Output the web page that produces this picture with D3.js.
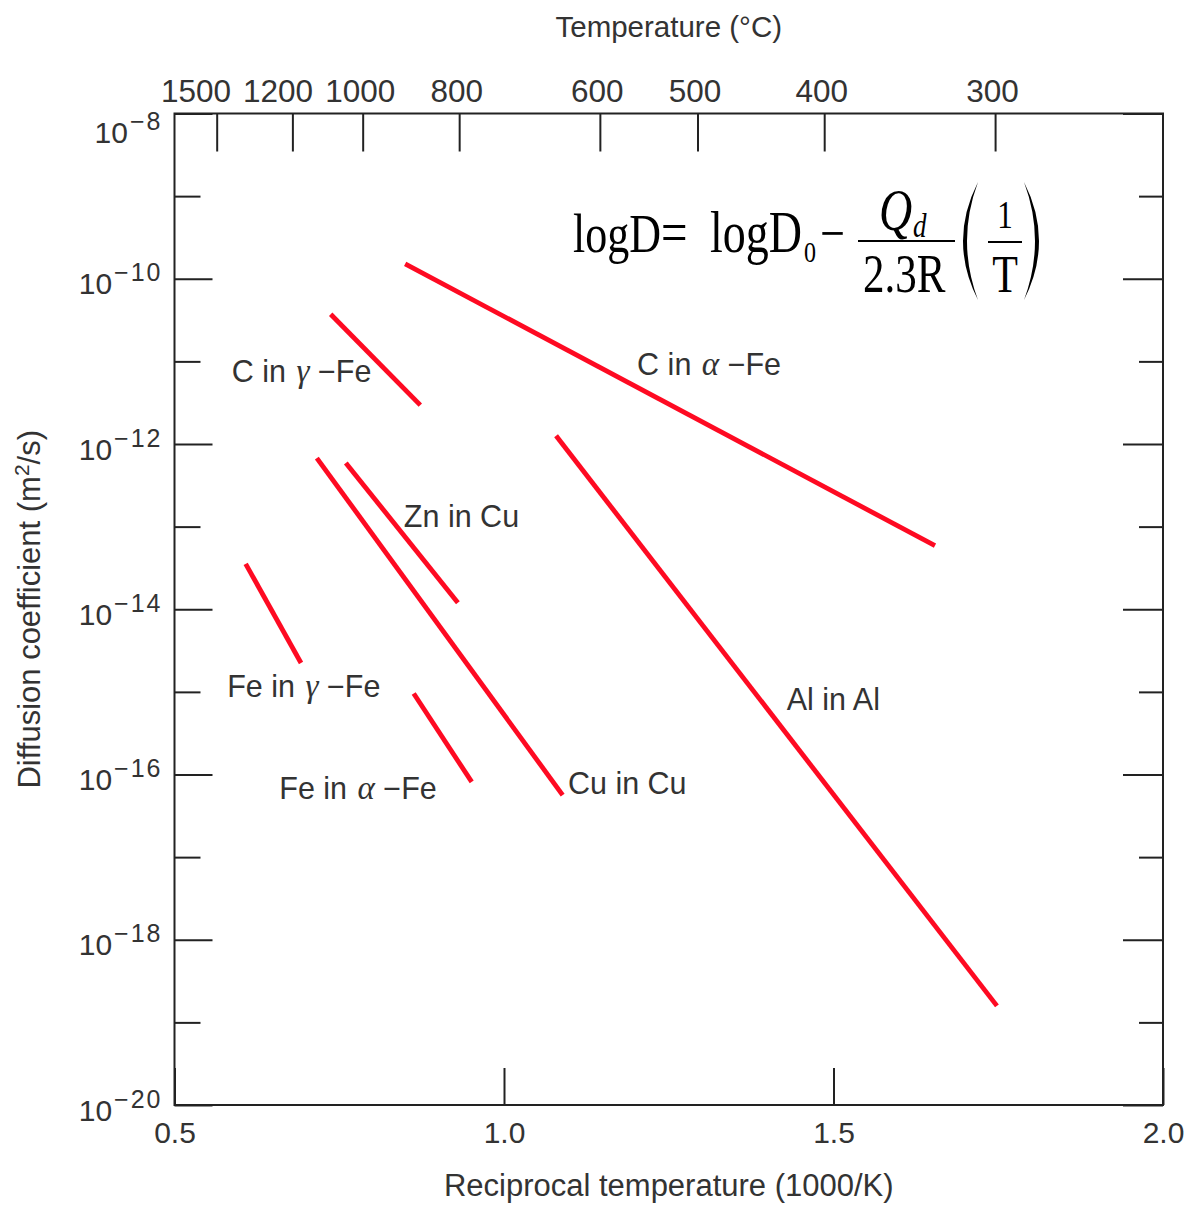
<!DOCTYPE html>
<html>
<head>
<meta charset="utf-8">
<script src="https://cdn.jsdelivr.net/npm/d3@7/dist/d3.min.js"></script>
<style>
body { margin: 0; background: #fff; }
svg text { font-family: "Liberation Sans", Arial, sans-serif; fill: #333; }
.axis line { stroke: #222; stroke-width: 2; }
.axis path { display: none; }
</style>
</head>
<body>
<svg id="chart"></svg>
<script>
// series: endpoints in reciprocal temperature (1000/K) and log10 D (m2/s)
var seriesNames = ["C in α −Fe", "C in γ −Fe", "Zn in Cu", "Cu in Cu", "Fe in γ −Fe", "Fe in α −Fe", "Al in Al"];
var recipT = [[0.850, 1.654], [0.737, 0.873], [0.760, 0.930], [0.716, 1.089], [0.608, 0.692], [0.863, 0.951], [1.079, 1.748]];
var logD   = [[-9.82, -13.23], [-10.43, -11.53], [-12.23, -13.92], [-12.17, -16.25], [-13.45, -14.65], [-15.02, -16.09], [-11.90, -18.80]];

// where each series name sits (data units, text start / baseline)
var labelRecipT = [1.202, 0.587, 0.848, 1.097, 0.580, 0.659, 1.429];
var labelLogD   = [-11.17, -11.25, -13.00, -16.24, -15.06, -16.30, -15.22];

var tempC = [1500, 1200, 1000, 800, 600, 500, 400, 300];
var xTicks = [0.5, 1.0, 1.5, 2.0];
var majorDecades = [-8, -10, -12, -14, -16, -18, -20];
var minorDecades = [-9, -11, -13, -15, -17, -19];

var W = 1191, H = 1207;
var svg = d3.select("#chart").attr("width", W).attr("height", H);

var x = d3.scaleLinear().domain([0.5, 2.0]).range([174.5, 1163]);
var y = d3.scaleLog().domain([1e-20, 1e-8]).range([1105, 113.5]);
var plotL = x.range()[0], plotR = x.range()[1], plotT = y.range()[1], plotB = y.range()[0];

function pow10(e) { return Math.pow(10, e); }

// left axis, inward ticks
var gl = svg.append("g").attr("class", "axis").attr("transform", "translate(" + plotL + ",0)");
gl.call(d3.axisLeft(y).tickValues(majorDecades.map(pow10)).tickSizeInner(-38).tickSizeOuter(0).tickPadding(12));
gl.selectAll(".tick text")
    .attr("font-size", 30)
    .attr("dy", function(d) { return d === 1e-8 ? "0.98em" : "0.5em"; })
    .each(function(d) {
        var t = d3.select(this).text(null);
        t.append("tspan").text("10");
        t.append("tspan").attr("dy", -13).attr("dx", 2).attr("font-size", 25).attr("letter-spacing", 2)
            .text("\u2212" + Math.round(-Math.log10(d)));
    });
gl.append("g").call(d3.axisLeft(y).tickValues(minorDecades.map(pow10)).tickSizeInner(-26).tickSizeOuter(0).tickFormat(""));

// right axis, inward ticks
var gr = svg.append("g").attr("class", "axis").attr("transform", "translate(" + plotR + ",0)");
gr.call(d3.axisRight(y).tickValues(majorDecades.map(pow10)).tickSizeInner(-40).tickSizeOuter(0).tickFormat(""));
gr.append("g").call(d3.axisRight(y).tickValues(minorDecades.map(pow10)).tickSizeInner(-24).tickSizeOuter(0).tickFormat(""));

// bottom axis
var gb = svg.append("g").attr("class", "axis").attr("transform", "translate(0," + plotB + ")");
gb.call(d3.axisBottom(x).tickValues(xTicks).tickSizeInner(-37).tickSizeOuter(0).tickPadding(17).tickFormat(d3.format(".1f")));
gb.selectAll(".tick text").attr("font-size", 30);

// top axis in degrees C
var gt = svg.append("g").attr("class", "axis").attr("transform", "translate(0," + plotT + ")");
gt.call(d3.axisTop(x).tickValues(tempC.map(function(t) { return 1000 / (t + 273); }))
    .tickSizeInner(-38).tickSizeOuter(0).tickPadding(12)
    .tickFormat(function(d, i) { return tempC[i]; }));
var tl = gt.selectAll(".tick text").attr("font-size", 31.5).nodes();
// push crowded labels leftwards so they don't touch
var cx = tl.map(function(n, i) { return x(1000 / (tempC[i] + 273)); });
var shift = tl.map(function() { return 0; });
for (var i = tl.length - 2; i >= 0; i--) {
    var wi = tl[i].getComputedTextLength(), wn = tl[i + 1].getComputedTextLength();
    var over = (cx[i] + shift[i] + wi / 2) - (cx[i + 1] + shift[i + 1] - wn / 2) + 12;
    if (over > 0) shift[i] -= over;
}
tl.forEach(function(n, i) { d3.select(n).attr("x", shift[i] - 3); });

// frame
svg.append("rect").attr("x", plotL).attr("y", plotT).attr("width", plotR - plotL).attr("height", plotB - plotT)
    .attr("fill", "none").attr("stroke", "#222").attr("stroke-width", 2);

// axis titles
svg.append("text").attr("x", (plotL + plotR) / 2).attr("y", 37).attr("text-anchor", "middle")
    .attr("font-size", 29.5).text("Temperature (\u00b0C)");
svg.append("text").attr("x", (plotL + plotR) / 2).attr("y", 1196).attr("text-anchor", "middle")
    .attr("font-size", 31).text("Reciprocal temperature (1000/K)");
var yl = svg.append("text").attr("transform", "translate(40," + (plotT + plotB) / 2 + ") rotate(-90)")
    .attr("text-anchor", "middle").attr("font-size", 31);
yl.append("tspan").text("Diffusion coefficient (m");
yl.append("tspan").attr("dy", -11).attr("font-size", 21).text("2");
yl.append("tspan").attr("dy", 11).text("/s)");

// diffusion lines
var line = d3.line().x(function(d) { return x(d[0]); }).y(function(d) { return y(pow10(d[1])); });
svg.append("g").selectAll("path")
    .data(seriesNames.map(function(n, i) { return [[recipT[i][0], logD[i][0]], [recipT[i][1], logD[i][1]]]; }))
    .enter().append("path")
    .attr("d", line)
    .attr("fill", "none")
    .attr("stroke", "#fe0a22")
    .attr("stroke-width", 4.8);

// series names, greek letters in serif italic
var lab = svg.append("g").selectAll("text").data(seriesNames).enter().append("text")
    .attr("x", function(d, i) { return x(labelRecipT[i]); })
    .attr("y", function(d, i) { return y(pow10(labelLogD[i])); })
    .attr("font-size", 30.5);
lab.each(function(d) {
    var t = d3.select(this);
    d.split(/([αγ])/).forEach(function(part) {
        if (part === "α" || part === "γ") {
            t.append("tspan").attr("dx", 2).style("font-family", "'Liberation Serif', 'Times New Roman', serif")
                .style("font-style", "italic").attr("font-size", 33).text(part);
        } else if (part.length) {
            t.append("tspan").text(part);
        }
    });
});

// the Arrhenius equation
var eq = svg.append("g").attr("class", "eq");
var eqParts = [
    ["logD", 573, 252, 44, "normal", "start"],
    ["=", 661, 252, 47, "normal", "start"],
    ["logD", 710, 252, 46, "normal", "start"],
    ["0", 804, 262, 24, "normal", "start"],
    ["\u2212", 820, 252, 44, "normal", "start"],
    ["Q", 879, 230, 46, "italic", "start"],
    ["d", 913, 237, 27, "italic", "start"],
    ["2.3R", 863, 292, 43, "normal", "start"],
    ["1", 1005, 228, 31, "normal", "middle"],
    ["T", 1005, 292, 42, "normal", "middle"]
];
eq.selectAll("text").data(eqParts).enter().append("text")
    .attr("transform", function(d) { return "translate(" + d[1] + "," + d[2] + ") scale(1,1.27)"; })
    .attr("font-size", function(d) { return d[3]; })
    .attr("text-anchor", function(d) { return d[5]; })
    .style("font-family", "'Liberation Serif', 'Times New Roman', serif")
    .style("font-style", function(d) { return d[4]; })
    .style("fill", "#000")
    .text(function(d) { return d[0]; });
eq.append("line").attr("x1", 858).attr("x2", 955).attr("y1", 241).attr("y2", 241).attr("stroke", "#000").attr("stroke-width", 2);
eq.append("line").attr("x1", 988).attr("x2", 1022).attr("y1", 242).attr("y2", 242).attr("stroke", "#000").attr("stroke-width", 2);
eq.append("path").attr("d", "M978,182 Q948,241 978,300 Q956,241 978,182 Z").attr("fill", "#000");
eq.append("path").attr("d", "M1024,182 Q1054,241 1024,300 Q1046,241 1024,182 Z").attr("fill", "#000");
</script>
</body>
</html>
